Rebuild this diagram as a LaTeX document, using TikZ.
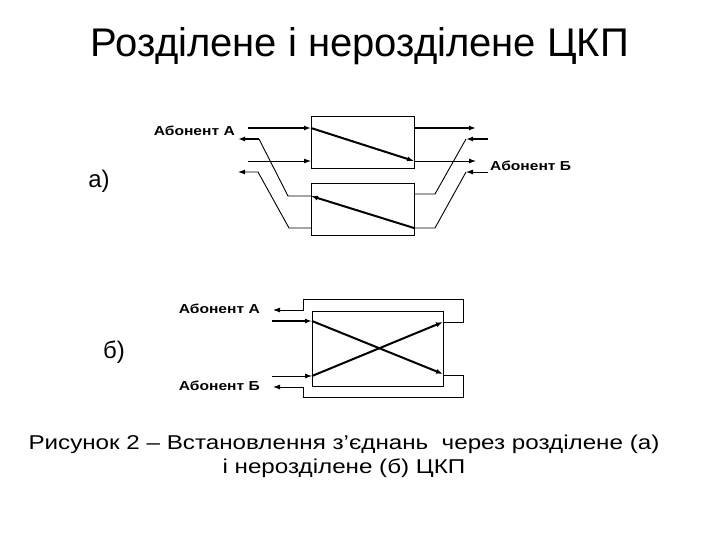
\documentclass[tikz,border=0pt]{standalone}
\usepackage{fontspec}
\setmainfont{Liberation Sans}
\usetikzlibrary{arrows.meta}
\begin{document}
\begin{tikzpicture}[x=1pt,y=-1pt,
  box/.style={draw,line width=1pt,inner sep=0pt,anchor=north west},
  thin/.style={line width=0.9pt},
  thk/.style={line width=2pt},
  tip/.style={-{Latex[length=7pt,width=5pt]}},
  lbl/.style={font=\bfseries\fontsize{13}{15}\selectfont,inner sep=1pt},
  big/.style={font=\fontsize{40}{46}\selectfont},
  mid/.style={font=\fontsize{24}{28}\selectfont},
  capt/.style={font=\fontsize{20}{24}\selectfont}]
\useasboundingbox (0,0) rectangle (720,540);
% title
\node[big] (title) at (360,46) {Розділене і нерозділене ЦКП};
% ---- part a ----
\node[box,minimum width=103pt,minimum height=52pt] (b1) at (311,116) {};
\node[box,minimum width=103pt,minimum height=52pt] (b2) at (311,183) {};
\node[mid] (la) at (99,181) {а)};
\node[lbl,anchor=east] (aA) at (236,131) {\scalebox{1.2}[1]{Абонент А}};
\node[lbl,anchor=west] (aB) at (489,166) {\scalebox{1.2}[1]{Абонент Б}};
\coordinate (p1) at (248,128); \coordinate (p2) at (311,128);
\coordinate (p3) at (414,161); \coordinate (p4) at (414,128); \coordinate (p5) at (476,128);
\coordinate (q1) at (248,161); \coordinate (q2) at (311,161); \coordinate (q5) at (476,161);
\draw[thk,tip] (p1) -- (p2);
\draw[thk,tip] (p2) -- (p3);
\draw[thk,tip] (p4) -- (p5);
\draw[thin,tip] (q1) -- (q2);
\draw[thin,tip] (p3) -- (q5);
% lower box signals
\coordinate (r1) at (414,228); \coordinate (r2) at (311,196);
\coordinate (r3) at (288,196); \coordinate (r4) at (259,139); \coordinate (r5) at (238,139);
\draw[thk,tip] (r1) -- (r2);
\draw[thin] (r2) -- (r3) -- (r4);
\draw[thk,tip] (r4) -- (r5);
\coordinate (s1) at (311,228); \coordinate (s2) at (289,228);
\coordinate (s3) at (258,172); \coordinate (s4) at (238,172);
\draw[thin,tip] (s1) -- (s2) -- (s3) -- (s4);
\coordinate (t1) at (488,139); \coordinate (t2) at (466,139);
\coordinate (t3) at (435,194); \coordinate (t4) at (414,194);
\draw[thk,tip] (t1) -- (t2);
\draw[thin] (t2) -- (t3) -- (t4);
\coordinate (u1) at (488,172); \coordinate (u2) at (466,172);
\coordinate (u3) at (435,228);
\draw[thin,tip] (u1) -- (u2);
\draw[thin] (u2) -- (u3) -- (r1);
% ---- part b ----
\node[box,minimum width=131pt,minimum height=75pt] (b3) at (312,311) {};
\node[mid] (lb) at (114,352) {б)};
\node[lbl,anchor=east] (bA) at (261,309) {\scalebox{1.2}[1]{Абонент А}};
\node[lbl,anchor=east] (bB) at (261,386) {\scalebox{1.2}[1]{Абонент Б}};
\coordinate (v1) at (272,321); \coordinate (v2) at (312,321); \coordinate (v3) at (443,374);
\coordinate (w1) at (272,376); \coordinate (w2) at (312,376); \coordinate (w3) at (443,322);
\draw[thk,tip] (v1) -- (v2);
\draw[thk,tip] (v2) -- (v3);
\draw[thin,tip] (w1) -- (w2);
\draw[thk,tip] (w2) -- (w3);
\coordinate (x1) at (463,322); \coordinate (x2) at (463,299);
\coordinate (x3) at (303,299); \coordinate (x4) at (303,310); \coordinate (x5) at (273,310);
\draw[thin,tip] (w3) -- (x1) -- (x2) -- (x3) -- (x4) -- (x5);
\coordinate (y0) at (443,375); \coordinate (y1) at (463,375); \coordinate (y2) at (463,397);
\coordinate (y3) at (303,397); \coordinate (y4) at (303,387); \coordinate (y5) at (273,387);
\draw[thin,tip] (y0) -- (y1) -- (y2) -- (y3) -- (y4) -- (y5);
% caption
\node[capt,align=center] (cap) at (344,456) {\scalebox{1.21}[1]{Рисунок 2 – Встановлення з’єднань\ \ через розділене (а)}\\\scalebox{1.21}[1]{і нерозділене (б) ЦКП}};
\end{tikzpicture}
\end{document}
